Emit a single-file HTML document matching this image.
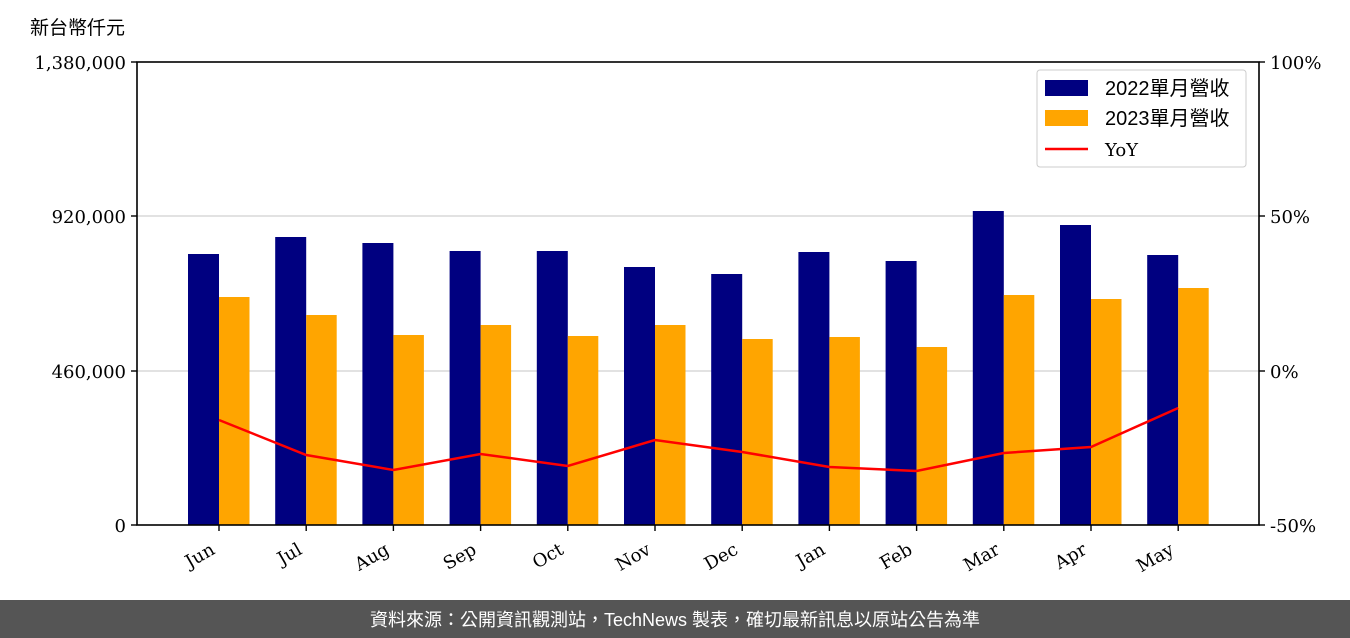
<!DOCTYPE html>
<html><head><meta charset="utf-8"><style>
body{margin:0;background:#fff;width:1350px;height:638px;overflow:hidden}
svg{display:block}
.t{font-family:"DejaVu Serif","Liberation Serif",serif;font-size:18px;fill:#000}
.c{font-family:"Liberation Sans","Noto Sans CJK TC",sans-serif}
</style></head><body>
<svg width="1350" height="638" xmlns="http://www.w3.org/2000/svg">
<rect width="1350" height="638" fill="#fff"/>
<text x="30" y="34" class="c" font-size="19" fill="#000">新台幣仟元</text>
<g stroke="#d0d0d0" stroke-width="1.2">
<line x1="137" x2="1259" y1="216" y2="216"/><line x1="137" x2="1259" y1="371" y2="371"/>
</g>
<g fill="#000080">
<rect x="188" y="254" width="31" height="271"/>
<rect x="275.2" y="237" width="31" height="288"/>
<rect x="362.4" y="243" width="31" height="282"/>
<rect x="449.6" y="251" width="31" height="274"/>
<rect x="536.8" y="251" width="31" height="274"/>
<rect x="624" y="267" width="31" height="258"/>
<rect x="711.2" y="274" width="31" height="251"/>
<rect x="798.4" y="252" width="31" height="273"/>
<rect x="885.6" y="261" width="31" height="264"/>
<rect x="972.8" y="211" width="31" height="314"/>
<rect x="1060" y="225" width="31" height="300"/>
<rect x="1147.2" y="255" width="31" height="270"/>
</g>
<g fill="#ffa500">
<rect x="219" y="297" width="30.5" height="228"/>
<rect x="306.2" y="315" width="30.5" height="210"/>
<rect x="393.4" y="335" width="30.5" height="190"/>
<rect x="480.6" y="325" width="30.5" height="200"/>
<rect x="567.8" y="336" width="30.5" height="189"/>
<rect x="655" y="325" width="30.5" height="200"/>
<rect x="742.2" y="339" width="30.5" height="186"/>
<rect x="829.4" y="337" width="30.5" height="188"/>
<rect x="916.6" y="347" width="30.5" height="178"/>
<rect x="1003.8" y="295" width="30.5" height="230"/>
<rect x="1091" y="299" width="30.5" height="226"/>
<rect x="1178.2" y="288" width="30.5" height="237"/>
</g>
<polyline fill="none" stroke="#ff0000" stroke-width="2.5" points="219,420 306.2,455 393.4,470 480.6,454 567.8,466 655,440 742.2,452 829.4,467 916.6,471 1003.8,453 1091,447 1178.2,408"/>
<rect x="137" y="62" width="1122" height="463" fill="none" stroke="#000" stroke-width="1.6"/>
<g stroke="#000" stroke-width="1.4">
<line x1="131" x2="137" y1="62" y2="62"/><line x1="131" x2="137" y1="216" y2="216"/><line x1="131" x2="137" y1="371" y2="371"/><line x1="131" x2="137" y1="525" y2="525"/>
<line x1="1259" x2="1265" y1="62" y2="62"/><line x1="1259" x2="1265" y1="216" y2="216"/><line x1="1259" x2="1265" y1="371" y2="371"/><line x1="1259" x2="1265" y1="525" y2="525"/>
<line x1="219" x2="219" y1="525" y2="531"/><line x1="306.2" x2="306.2" y1="525" y2="531"/><line x1="393.4" x2="393.4" y1="525" y2="531"/><line x1="480.6" x2="480.6" y1="525" y2="531"/><line x1="567.8" x2="567.8" y1="525" y2="531"/><line x1="655" x2="655" y1="525" y2="531"/><line x1="742.2" x2="742.2" y1="525" y2="531"/><line x1="829.4" x2="829.4" y1="525" y2="531"/><line x1="916.6" x2="916.6" y1="525" y2="531"/><line x1="1003.8" x2="1003.8" y1="525" y2="531"/><line x1="1091" x2="1091" y1="525" y2="531"/><line x1="1178.2" x2="1178.2" y1="525" y2="531"/>
</g>
<g class="t" text-anchor="end">
<text x="126" y="69">1,380,000</text><text x="126" y="223">920,000</text><text x="126" y="378">460,000</text><text x="126" y="532">0</text>
</g>
<g class="t">
<text x="1270" y="69">100%</text><text x="1270" y="223">50%</text><text x="1270" y="378">0%</text><text x="1270" y="532">-50%</text>
</g>
<g class="t" text-anchor="end">
<text transform="translate(216,553) rotate(-30)">Jun</text>
<text transform="translate(303.2,553) rotate(-30)">Jul</text>
<text transform="translate(390.4,553) rotate(-30)">Aug</text>
<text transform="translate(477.6,553) rotate(-30)">Sep</text>
<text transform="translate(564.8,553) rotate(-30)">Oct</text>
<text transform="translate(652,553) rotate(-30)">Nov</text>
<text transform="translate(739.2,553) rotate(-30)">Dec</text>
<text transform="translate(826.4,553) rotate(-30)">Jan</text>
<text transform="translate(913.6,553) rotate(-30)">Feb</text>
<text transform="translate(1000.8,553) rotate(-30)">Mar</text>
<text transform="translate(1088,553) rotate(-30)">Apr</text>
<text transform="translate(1175.2,553) rotate(-30)">May</text>
</g>
<rect x="1037" y="70" width="209" height="97" rx="3" fill="#fff" fill-opacity="0.85" stroke="#ccc"/>
<rect x="1045" y="80" width="43" height="16" fill="#000080"/>
<rect x="1045" y="110" width="43" height="16" fill="#ffa500"/>
<line x1="1045" x2="1088" y1="149" y2="149" stroke="#ff0000" stroke-width="2.5"/>
<text x="1105" y="95" class="c" font-size="20">2022單月營收</text>
<text x="1105" y="125" class="c" font-size="20">2023單月營收</text>
<text x="1105" y="156" class="t" font-size="19">YoY</text>
<rect x="0" y="600" width="1350" height="38" fill="#555"/>
<text x="675" y="626" text-anchor="middle" class="c" font-size="18" fill="#fff">資料來源：公開資訊觀測站，TechNews 製表，確切最新訊息以原站公告為準</text>
</svg>
</body></html>
